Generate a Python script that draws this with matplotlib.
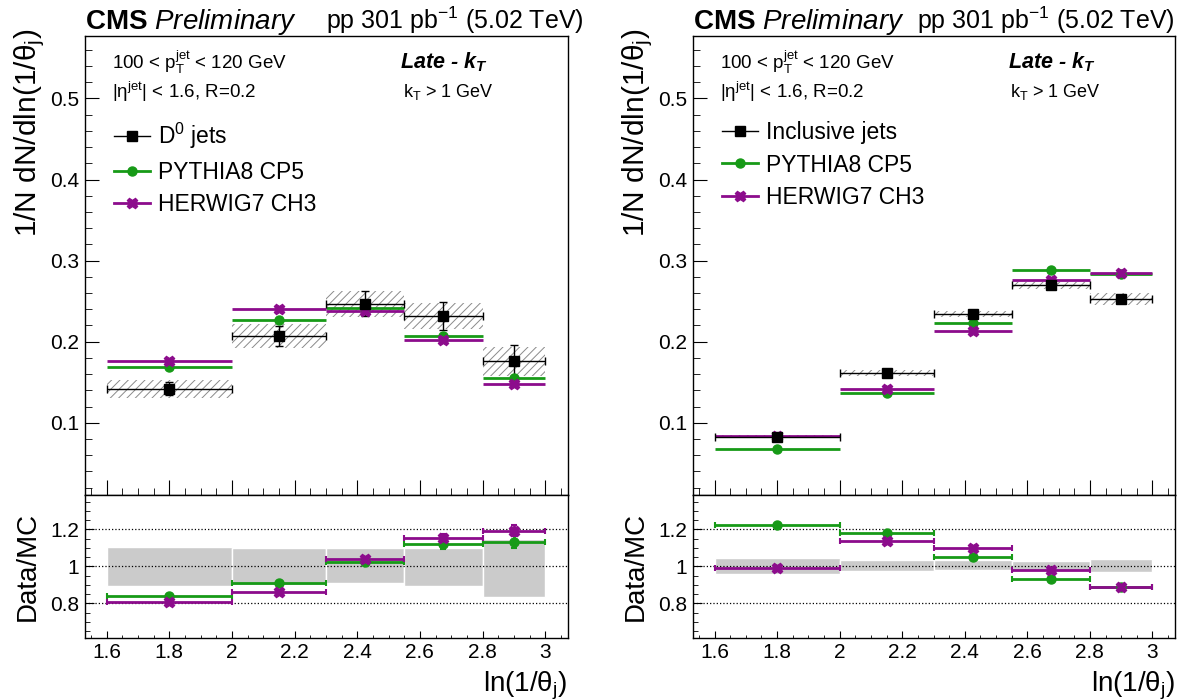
# plot.py - CMS Late-kT ln(1/theta) distributions, D0 jets vs inclusive jets

import numpy as np
import matplotlib
matplotlib.use("Agg")
import matplotlib.pyplot as plt
from matplotlib.lines import Line2D
from matplotlib.ticker import MultipleLocator, FuncFormatter

plt.rcParams["font.family"] = ["Liberation Sans", "DejaVu Sans"]
plt.rcParams["mathtext.fontset"] = "custom"
plt.rcParams["mathtext.rm"] = "Liberation Sans"
plt.rcParams["mathtext.it"] = "Liberation Sans:italic"
plt.rcParams["mathtext.bf"] = "Liberation Sans:bold"
plt.rcParams["mathtext.bfit"] = "Liberation Sans:bold:italic"
plt.rcParams["hatch.linewidth"] = 0.7


# ============================================================
# Data
# ============================================================
bin_edges = np.array([1.6, 2.0, 2.3, 2.55, 2.8, 3.0])

# left: D0 jets
d0_data = np.array([0.142, 0.207, 0.247, 0.232, 0.176])
d0_stat = np.array([0.008, 0.012, 0.015, 0.017, 0.020])
d0_sys = np.array([0.011, 0.015, 0.016, 0.016, 0.018])
d0_pythia = np.array([0.169, 0.227, 0.2415, 0.2065, 0.1553])
d0_herwig = np.array([0.176, 0.2398, 0.2375, 0.2015, 0.1475])
d0_band_lo = np.array([0.894, 0.897, 0.912, 0.894, 0.832])
d0_band_hi = np.array([1.103, 1.100, 1.097, 1.100, 1.146])
d0_pythia_rerr = np.array([0.010, 0.010, 0.012, 0.030, 0.035])
d0_herwig_rerr = np.array([0.010, 0.010, 0.012, 0.025, 0.030])

# right: inclusive jets
incl_data = np.array([0.0827, 0.161, 0.234, 0.2695, 0.2527])
incl_stat = np.array([0.001, 0.002, 0.002, 0.002, 0.002])
incl_sys = np.array([0.002, 0.0035, 0.004, 0.004, 0.007])
incl_pythia = np.array([0.0677, 0.1367, 0.2225, 0.2888, 0.2840])
incl_herwig = np.array([0.0835, 0.1413, 0.2130, 0.2756, 0.2842])
incl_band_lo = np.array([0.957, 0.977, 0.980, 0.977, 0.968])
incl_band_hi = np.array([1.043, 1.034, 1.034, 1.029, 1.040])
incl_pythia_rerr = np.array([0.008, 0.008, 0.008, 0.008, 0.008])
incl_herwig_rerr = np.array([0.008, 0.008, 0.008, 0.008, 0.008])

centers = 0.5 * (bin_edges[1:] + bin_edges[:-1])
half = 0.5 * (bin_edges[1:] - bin_edges[:-1])

green = "#179a17"
purple = "#8c0c8c"
hatch_col = "#8a8a8a"
band_col = "#cbcbcb"
FS_TICK = 15
FS_TITLE = 20


def fmt_g(v, pos):
    return f"{v:g}"


# ============================================================
# Helper functions
# ============================================================
def draw_top(ax, data, stat, sys, pyth, herw, data_label):
    ax.bar(centers, 2 * sys, bottom=data - sys, width=2 * half,
           color="none", edgecolor=hatch_col, hatch="////", linewidth=0)
    ax.errorbar(centers, pyth, xerr=half, fmt="o", color=green, ms=6.5,
                lw=2, capsize=0)
    ax.errorbar(centers, herw, xerr=half, fmt="X", color=purple, ms=7.5,
                lw=2, capsize=0)
    ax.errorbar(centers, data, xerr=half, yerr=stat, fmt="s", color="black",
                ms=7, lw=1, capsize=3, capthick=1)

    ax.set_xlim(1.53, 3.072)
    ax.set_ylim(0.011, 0.577)
    ax.yaxis.set_major_locator(MultipleLocator(0.1))
    ax.yaxis.set_minor_locator(MultipleLocator(0.02))
    ax.xaxis.set_major_locator(MultipleLocator(0.2))
    ax.xaxis.set_minor_locator(MultipleLocator(0.05))
    ax.yaxis.set_major_formatter(FuncFormatter(fmt_g))
    ax.tick_params(which="both", direction="in", top=False, right=False,
                   labelbottom=False, labelsize=FS_TICK, pad=4)
    ax.tick_params(axis="y", which="major", length=10)
    ax.tick_params(axis="y", which="minor", length=5)
    ax.tick_params(axis="x", which="major", length=11)
    ax.tick_params(axis="x", which="minor", length=5)

    handles = [
        Line2D([], [], color="black", marker="s", ms=7, lw=1),
        Line2D([], [], color=green, marker="o", ms=6.5, lw=2),
        Line2D([], [], color=purple, marker="X", ms=7.5, lw=2),
    ]
    ax.legend(handles, [data_label, "PYTHIA8 CP5", "HERWIG7 CH3"],
              loc="upper left", bbox_to_anchor=(0.06, 0.815), frameon=False,
              fontsize=16.5, handlelength=1.6, handletextpad=0.35,
              labelspacing=0.42, borderpad=0, borderaxespad=0)

    ax.text(0.056, 0.943, r"100 < p$_{\rm T}^{\rm jet}$ < 120 GeV",
            transform=ax.transAxes, fontsize=13.5, va="center")
    ax.text(0.056, 0.878, r"|η$^{\rm jet}$| < 1.6, R=0.2",
            transform=ax.transAxes, fontsize=13.5, va="center")
    ax.text(0.653, 0.943, r"Late - $\mathbfit{k}_{\mathbfit{T}}$",
            transform=ax.transAxes, fontsize=15.5, va="center",
            fontweight="bold", style="italic")
    ax.text(0.658, 0.878, r"k$_{\rm T}$ > 1 GeV",
            transform=ax.transAxes, fontsize=13, va="center")

    ax.text(0.0, 1.016, r"$\mathbf{CMS}$ $\mathit{Preliminary}$",
            transform=ax.transAxes, fontsize=20, va="baseline", ha="left")


def draw_ratio(ax, data, pyth, herw, band_lo, band_hi, p_err, h_err):
    ax.bar(centers, band_hi - band_lo, bottom=band_lo, width=2 * half,
           color=band_col, edgecolor="white", linewidth=1)
    for yv in (0.8, 1.0, 1.2):
        ax.axhline(yv, color="black", ls=":", lw=0.9)
    ax.errorbar(centers, data / pyth, xerr=half, yerr=p_err, fmt="o",
                color=green, ms=6.5, lw=2, capsize=2.5, capthick=1.5)
    ax.errorbar(centers, data / herw, xerr=half, yerr=h_err, fmt="X",
                color=purple, ms=7.5, lw=2, capsize=2.5, capthick=1.5)

    ax.set_xlim(1.53, 3.072)
    ax.set_ylim(0.614, 1.386)
    ax.set_yticks([0.8, 1.0, 1.2])
    ax.yaxis.set_minor_locator(MultipleLocator(0.05))
    ax.xaxis.set_major_locator(MultipleLocator(0.2))
    ax.xaxis.set_minor_locator(MultipleLocator(0.05))
    ax.xaxis.set_major_formatter(FuncFormatter(fmt_g))
    ax.yaxis.set_major_formatter(FuncFormatter(fmt_g))
    ax.tick_params(which="both", direction="in", top=False, right=False,
                   labelsize=FS_TICK, pad=4)
    ax.tick_params(axis="y", which="major", length=6.5)
    ax.tick_params(axis="y", which="minor", length=3.5)
    ax.tick_params(axis="x", which="major", length=5)
    ax.tick_params(axis="x", which="minor", length=2.5)


# ============================================================
# Figure
# ============================================================
fig = plt.figure(figsize=(11.77, 7.0), dpi=100)

panels = [
    (0.072, 0.4104, d0_data, d0_stat, d0_sys, d0_pythia, d0_herwig,
     d0_band_lo, d0_band_hi, d0_pythia_rerr, d0_herwig_rerr,
     r"D$^{0}$ jets", 1.032, 30),
    (0.5885, 0.4098, incl_data, incl_stat, incl_sys, incl_pythia, incl_herwig,
     incl_band_lo, incl_band_hi, incl_pythia_rerr, incl_herwig_rerr,
     "Inclusive jets", 1.0, 638),
]

for (x0, w, data, stat, sys, pyth, herw, blo, bhi, perr, herr,
     label, lumi_x, ylab_px) in panels:
    ax_top = fig.add_axes([x0, 0.2929, w, 0.6557])
    ax_rat = fig.add_axes([x0, 0.089, w, 0.2039])
    for ax in (ax_top, ax_rat):
        for sp in ax.spines.values():
            sp.set_linewidth(1.0)

    draw_top(ax_top, data, stat, sys, pyth, herw, label)
    draw_ratio(ax_rat, data, pyth, herw, blo, bhi, perr, herr)

    ax_top.text(lumi_x, 1.016, r"pp 301 pb$^{-1}$ (5.02 TeV)",
                transform=ax_top.transAxes, fontsize=18, va="baseline",
                ha="right")

    fig.text(ylab_px / 1177, 1 - 29 / 700, r"1/N dN/dln(1/θ$_{\rm j}$)",
             rotation=90, ha="center", va="top", fontsize=21.5)
    fig.text((ylab_px - 2) / 1177, 1 - 566 / 700, "Data/MC",
             rotation=90, ha="center", va="center", fontsize=FS_TITLE)
    fig.text(x0 + w, 1 - 686 / 700, r"ln(1/θ$_{\rm j}$)",
             ha="right", va="center", fontsize=FS_TITLE)

fig.savefig("out.png", dpi=100)
